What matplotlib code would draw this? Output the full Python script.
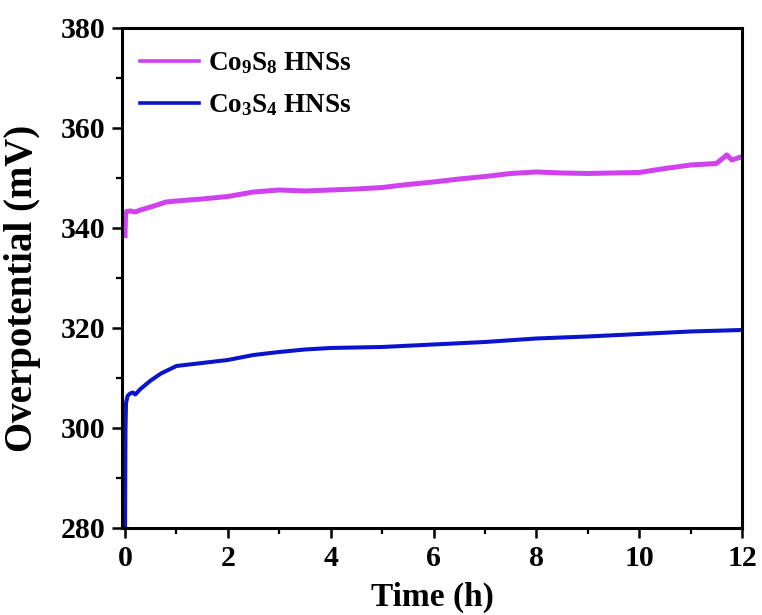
import matplotlib
matplotlib.use("Agg")
import matplotlib.pyplot as plt
from matplotlib.ticker import MultipleLocator

# Co9S8 HNSs chronopotentiometry
t_co9s8 = [0, 0.01, 0.03, 0.1, 0.2, 0.3, 0.5, 0.8, 1.0, 1.5, 2.0, 2.5, 3.0, 3.5,
           4.0, 4.5, 5.0, 5.5, 6.0, 6.5, 7.0, 7.5, 8.0, 8.5, 9.0, 9.5, 10.0,
           10.5, 11.0, 11.5, 11.7, 11.8, 12.0]
v_co9s8 = [338.5, 342.5, 343.3, 343.4, 343.2, 343.6, 344.2, 345.2, 345.4, 345.8,
           346.3, 347.2, 347.6, 347.4, 347.6, 347.8, 348.1, 348.7, 349.2, 349.8,
           350.3, 350.9, 351.2, 351.0, 350.9, 351.0, 351.1, 351.9, 352.6, 352.9,
           354.6, 353.6, 354.3]

# Co3S4 HNSs
t_co3s4 = [0, 0.005, 0.01, 0.02, 0.05, 0.1, 0.15, 0.2, 0.3, 0.5, 0.7, 1.0, 1.5,
           2.0, 2.5, 3.0, 3.5, 4.0, 5.0, 6.0, 7.0, 8.0, 9.0, 10.0, 11.0, 12.0]
v_co3s4 = [275, 290, 300, 305, 306.4, 306.9, 307.1, 306.7, 307.8, 309.5, 310.9,
           312.4, 313.0, 313.6, 314.6, 315.2, 315.7, 316.0, 316.2, 316.7, 317.2,
           317.9, 318.3, 318.8, 319.3, 319.6]

labels = ["Co$_9$S$_8$ HNSs", "Co$_3$S$_4$ HNSs"]
colors = ["#D042F0", "#0B13CC"]

plt.rcParams["font.family"] = ["Liberation Serif", "DejaVu Serif"]
plt.rcParams["font.weight"] = "bold"
plt.rcParams["mathtext.fontset"] = "custom"
plt.rcParams["mathtext.rm"] = "Liberation Serif:bold"
plt.rcParams["mathtext.default"] = "rm"

fig = plt.figure(figsize=(7.62, 6.15), dpi=100)
ax = fig.add_axes([0.160, 0.1415, 0.814, 0.813])

ax.plot(t_co9s8, v_co9s8, color=colors[0], lw=3.6, label=labels[0])
ax.plot(t_co3s4, v_co3s4, color=colors[1], lw=2.9, label=labels[1])

ax.set_xlim(-0.06, 12)
ax.set_ylim(280, 380)
ax.xaxis.set_major_locator(MultipleLocator(2))
ax.xaxis.set_minor_locator(MultipleLocator(1))
ax.yaxis.set_major_locator(MultipleLocator(20))
ax.yaxis.set_minor_locator(MultipleLocator(10))

for s in ax.spines.values():
    s.set_linewidth(2.2)
ax.tick_params(which="major", direction="out", length=7, width=1.8,
               labelsize=21.5, pad=5)
ax.tick_params(which="minor", direction="out", length=4, width=1.6)
for lab in ax.get_xticklabels() + ax.get_yticklabels():
    lab.set_fontweight("bold")

ax.set_xlabel("Time (h)", fontsize=24, fontweight="bold", labelpad=7)
ax.set_ylabel("Overpotential (mV)", fontsize=28, fontweight="bold")
ax.yaxis.set_label_coords(-0.13, 0.48)

leg = ax.legend(loc="upper left", bbox_to_anchor=(0.029, 0.955), frameon=False,
                fontsize=19.5, handlelength=2.2, handletextpad=0.3,
                labelspacing=0.6, borderpad=0, borderaxespad=0)
for line in leg.get_lines():
    line.set_linewidth(2.6)

fig.savefig("out.png", dpi=100)
